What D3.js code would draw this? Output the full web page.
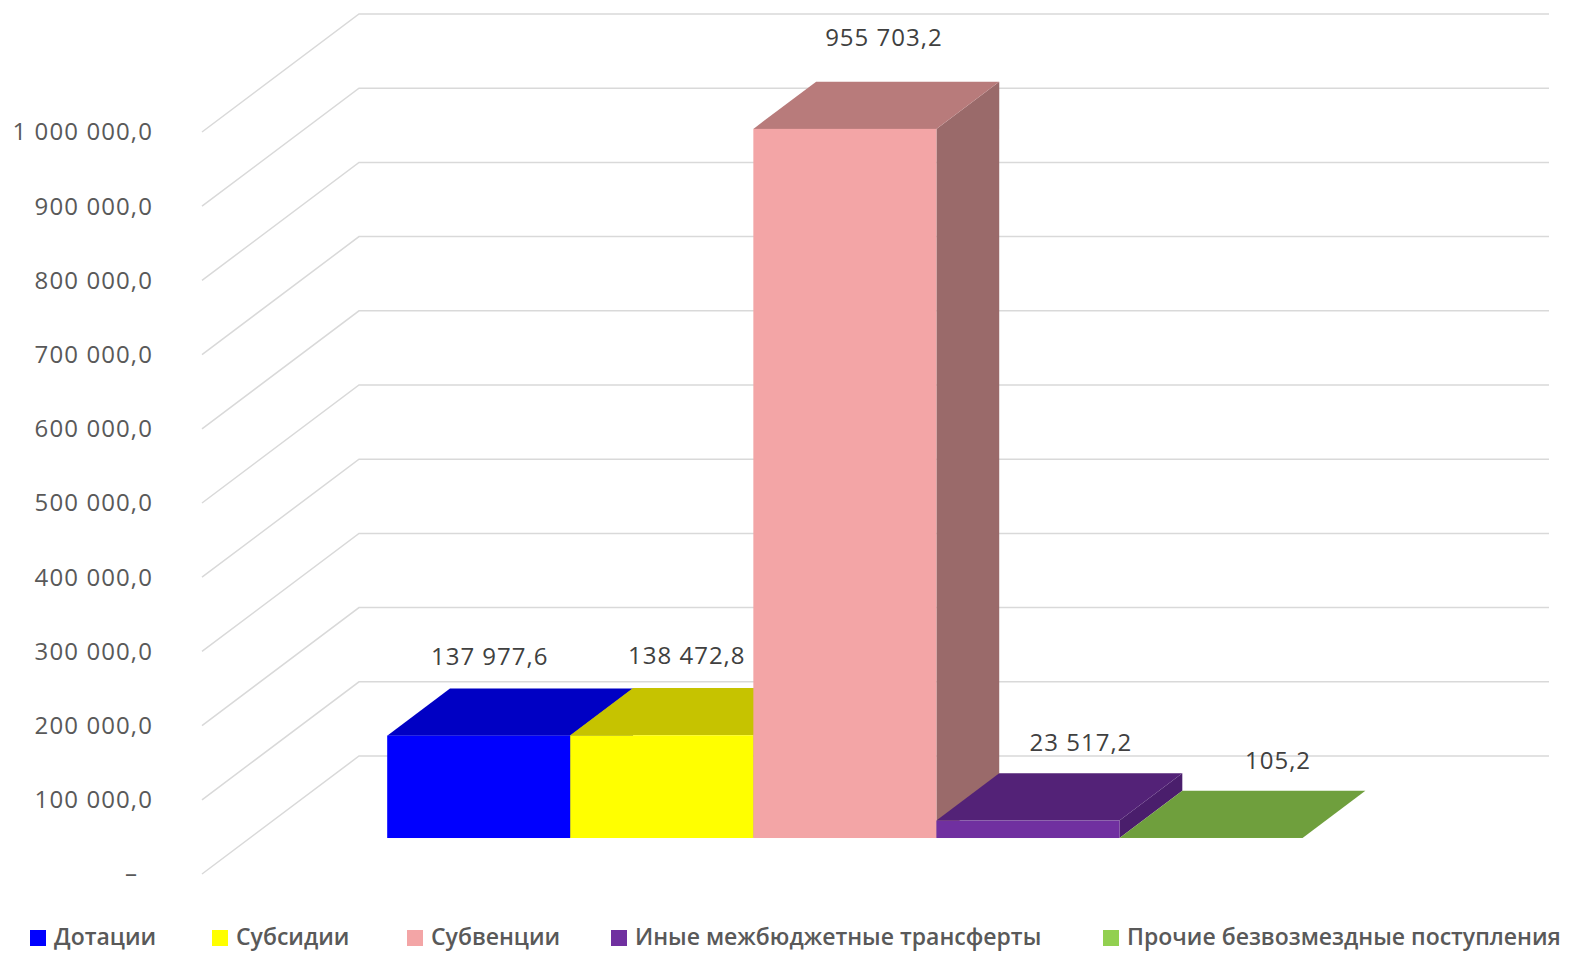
<!DOCTYPE html>
<html>
<head>
<meta charset="utf-8">
<script src="https://cdn.jsdelivr.net/npm/d3@7"></script>
<style>
  body { margin: 0; background: #fff; }
  text { font-family: "Open Sans", sans-serif; }
</style>
</head>
<body>
<script>
// data
var categories = ["Дотации", "Субсидии", "Субвенции", "Иные межбюджетные трансферты", "Прочие безвозмездные поступления"];
var values = [137977.6, 138472.8, 955703.2, 23517.2, 105.2];
var yTicks = [0, 100000, 200000, 300000, 400000, 500000, 600000, 700000, 800000, 900000, 1000000];

// colours: front, top, side
var frontColors = ["#0000FF", "#FFFF00", "#F3A5A6", "#7030A0", "#92D050"];
var topColors = ["#0000C4", "#C6C300", "#B87B7B", "#532277", "#6F9F3D"];
var sideColors = ["#0000A0", "#A09E00", "#9A6A6A", "#4A1E6C", "#5E8834"];
var legendX = [30, 212, 407, 611, 1103];

setChart();

function setChart(){
    var width = 1569,
        height = 953;

    var svg = d3.select("body")
        .append("svg")
        .attr("width", width)
        .attr("height", height);

    //floor: front-left corner and full depth offset
    var x0 = 202, x1 = 1392,
        depthX = 157, depthY = -118;

    var y = d3.scaleLinear()
        .domain([0, 1000000])
        .range([874, 132]);

    //bars sit between 30% and 70% of the depth
    var barOffX = 0.305 * depthX, barOffY = 0.305 * depthY,
        barDX = 0.40 * depthX, barDY = 0.40 * depthY;

    var x = d3.scaleBand()
        .domain(categories)
        .range([x0 + barOffX, x1 + barOffX])
        .paddingInner(0)
        .paddingOuter(0.75);

    var fmt = function(v){
        return d3.format(",.1f")(v).replace(/,/g, " ").replace(".", ",");
    };

    //gridlines: diagonal on the side wall then flat on the back wall
    var grid = svg.append("g").attr("class", "grid");
    grid.selectAll("path")
        .data(yTicks)
        .enter()
        .append("path")
        .attr("d", function(d){
            var yf = y(d);
            return "M" + x0 + "," + yf + "L" + (x0 + depthX) + "," + (yf + depthY) + "L" + (x1 + depthX) + "," + (yf + depthY);
        })
        .attr("fill", "none")
        .attr("stroke", "#D9D9D9")
        .attr("stroke-width", 1.5);

    //y labels
    var labels = svg.append("g").attr("class", "ylabels");
    labels.selectAll("text")
        .data(yTicks)
        .enter()
        .append("text")
        .attr("x", 153)
        .attr("y", function(d){ return y(d); })
        .attr("dy", "0.35em")
        .attr("text-anchor", "end")
        .attr("fill", "#595959")
        .style("font-size", "24px")
        .style("letter-spacing", "1.1px")
        .each(function(d){
            var t = d3.select(this);
            if (d === 0) {
                t.append("tspan").text("–");
                t.append("tspan").attr("fill-opacity", 0).text("0");
            } else {
                t.text(fmt(d));
            }
        });

    //bars
    var bars = svg.selectAll(".bar")
        .data(categories)
        .enter()
        .append("g")
        .attr("class", "bar");

    bars.each(function(name, i){
        var g = d3.select(this);
        var bx = x(name), bw = x.bandwidth(),
            yt = y(values[i]) + barOffY,
            yb = y(0) + barOffY;

        g.append("path")
            .attr("d", "M" + (bx + bw) + "," + yt + "L" + (bx + bw + barDX) + "," + (yt + barDY) +
                "L" + (bx + bw + barDX) + "," + (yb + barDY) + "L" + (bx + bw) + "," + yb + "Z")
            .attr("fill", sideColors[i]);

        g.append("path")
            .attr("d", "M" + bx + "," + yt + "L" + (bx + bw) + "," + yt +
                "L" + (bx + bw + barDX) + "," + (yt + barDY) + "L" + (bx + barDX) + "," + (yt + barDY) + "Z")
            .attr("fill", topColors[i]);

        g.append("rect")
            .attr("x", bx)
            .attr("y", yt)
            .attr("width", bw)
            .attr("height", yb - yt)
            .attr("fill", frontColors[i]);
    });

    //value labels
    svg.append("g").attr("class", "vlabels")
        .selectAll("text")
        .data(categories)
        .enter()
        .append("text")
        .attr("x", function(d, i){ return x(d) + x.bandwidth() / 2 + 11 + 14 * i; })
        .attr("y", function(d, i){
            var yt = y(values[i]) + barOffY;
            return yt + barDY - 30 - 0.02 * (y(0) - y(values[i]));
        })
        .attr("dy", "0.35em")
        .attr("text-anchor", "middle")
        .attr("fill", "#404040")
        .style("font-size", "24px")
        .style("letter-spacing", "1px")
        .text(function(d, i){ return fmt(values[i]); });

    //legend
    var legend = svg.append("g").attr("class", "legend")
        .selectAll("g")
        .data(categories)
        .enter()
        .append("g")
        .attr("transform", function(d, i){ return "translate(" + legendX[i] + ",937)"; });

    legend.append("rect")
        .attr("x", 0)
        .attr("y", -7)
        .attr("width", 16)
        .attr("height", 16)
        .attr("fill", function(d, i){ return frontColors[i]; });

    legend.append("text")
        .attr("x", 24)
        .attr("y", 0)
        .attr("dy", "0.35em")
        .attr("fill", "#595959")
        .style("font-size", "23px")
        .style("font-weight", 600)
        .text(function(d){ return d; });
}
</script>
</body>
</html>
